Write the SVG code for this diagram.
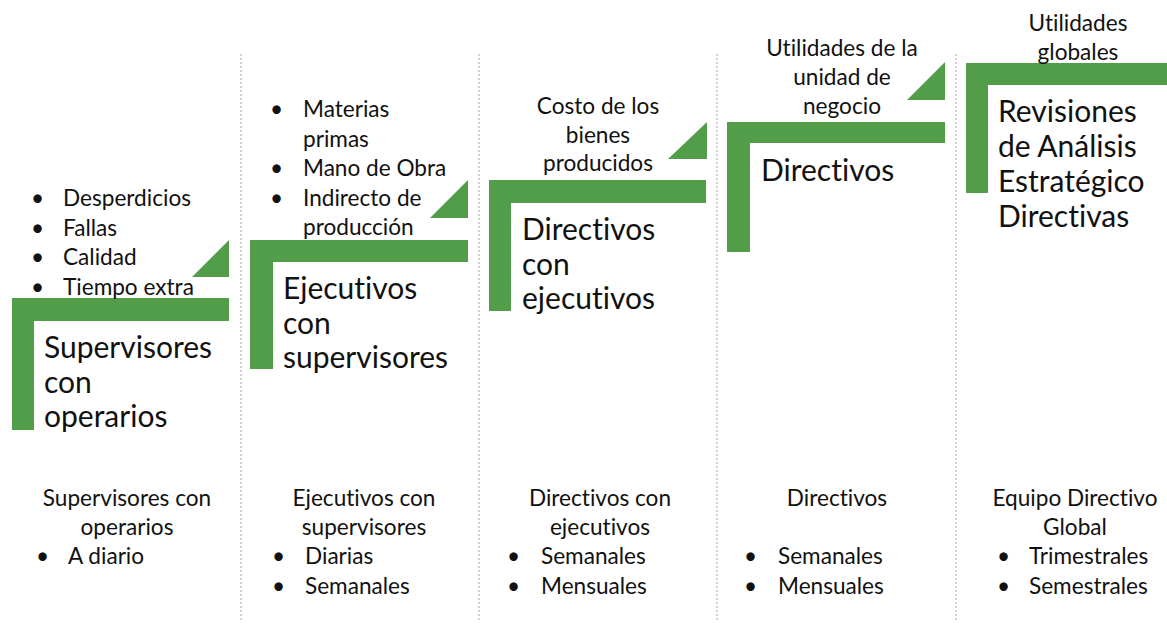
<svg xmlns="http://www.w3.org/2000/svg" width="1167" height="624" viewBox="0 0 1167 624">
<style>
.g{fill:#519d49}
.sep{stroke:#a6a6a6;stroke-width:1;stroke-dasharray:2 2;fill:none}
text{font-family:Lato,"Open Sans",sans-serif;fill:#111;font-variant-ligatures:none}
.s{font-size:22.6px}
.b{font-size:30px}
.c{text-anchor:middle}
</style>
<rect width="1167" height="624" fill="#fff"/>
<g id="separators">
<line class="sep" x1="241" y1="54" x2="241" y2="622"/>
<line class="sep" x1="479" y1="54" x2="479" y2="622"/>
<line class="sep" x1="717" y1="54" x2="717" y2="622"/>
<line class="sep" x1="956" y1="54" x2="956" y2="622"/>
</g>
<g id="step1">
<polygon class="g" points="12,298 229,298 229,321 34,321 34,430 12,430"/>
<polygon class="g" points="192,277 229,240 229,277"/>
<text class="s"><tspan x="31" y="206">•</tspan><tspan x="63" y="206">Desperdicios</tspan><tspan x="31" y="235.5">•</tspan><tspan x="63" y="235.5">Fallas</tspan><tspan x="31" y="265">•</tspan><tspan x="63" y="265">Calidad</tspan><tspan x="31" y="294.5">•</tspan><tspan x="63" y="294.5">Tiempo extra</tspan></text>
<text class="b"><tspan x="44" y="358">Supervisores</tspan><tspan x="44" y="392.5">con</tspan><tspan x="44" y="427">operarios</tspan></text>
</g>
<g id="step2">
<polygon class="g" points="250,240 468,240 468,262 273,262 273,369 250,369"/>
<polygon class="g" points="430,218 468,180 468,218"/>
<text class="s"><tspan x="270" y="117">•</tspan><tspan x="303" y="117">Materias</tspan><tspan x="303" y="146.5">primas</tspan><tspan x="270" y="176">•</tspan><tspan x="303" y="176">Mano de Obra</tspan><tspan x="270" y="205.5">•</tspan><tspan x="303" y="205.5">Indirecto de</tspan><tspan x="303" y="235">producción</tspan></text>
<text class="b"><tspan x="283" y="299">Ejecutivos</tspan><tspan x="283" y="333.5">con</tspan><tspan x="283" y="368">supervisores</tspan></text>
</g>
<g id="step3">
<polygon class="g" points="489,180 706,180 706,203 511,203 511,311 489,311"/>
<polygon class="g" points="668,159 707,122 707,159"/>
<text class="s c"><tspan x="598" y="114">Costo de los</tspan><tspan x="598" y="142.5">bienes</tspan><tspan x="598" y="171">producidos</tspan></text>
<text class="b"><tspan x="522" y="240">Directivos</tspan><tspan x="522" y="274.5">con</tspan><tspan x="522" y="309">ejecutivos</tspan></text>
</g>
<g id="step4">
<polygon class="g" points="727,122 945,122 945,143 750,143 750,252 727,252"/>
<polygon class="g" points="907,100 945,62 945,100"/>
<text class="s c"><tspan x="842" y="56">Utilidades de la</tspan><tspan x="842" y="85">unidad de</tspan><tspan x="842" y="114">negocio</tspan></text>
<text class="b"><tspan x="761" y="181">Directivos</tspan></text>
</g>
<g id="step5">
<polygon class="g" points="966,63 1167,63 1167,85 988,85 988,193 966,193"/>
<text class="s c"><tspan x="1078" y="31">Utilidades</tspan><tspan x="1078" y="60">globales</tspan></text>
<text class="b"><tspan x="998" y="122">Revisiones</tspan><tspan x="998" y="157">de Análisis</tspan><tspan x="998" y="192">Estratégico</tspan><tspan x="998" y="227">Directivas</tspan></text>
</g>
<g id="freq1">
<text class="s c"><tspan x="127" y="506">Supervisores con</tspan><tspan x="127" y="535">operarios</tspan></text>
<text class="s"><tspan x="36" y="564">•</tspan><tspan x="68" y="564">A diario</tspan></text>
</g>
<g id="freq2">
<text class="s c"><tspan x="364" y="506">Ejecutivos con</tspan><tspan x="364" y="535">supervisores</tspan></text>
<text class="s"><tspan x="272" y="564">•</tspan><tspan x="305" y="564">Diarias</tspan><tspan x="272" y="594">•</tspan><tspan x="305" y="594">Semanales</tspan></text>
</g>
<g id="freq3">
<text class="s c"><tspan x="600" y="506">Directivos con</tspan><tspan x="600" y="535">ejecutivos</tspan></text>
<text class="s"><tspan x="507" y="564">•</tspan><tspan x="541" y="564">Semanales</tspan><tspan x="507" y="594">•</tspan><tspan x="541" y="594">Mensuales</tspan></text>
</g>
<g id="freq4">
<text class="s c"><tspan x="837" y="506">Directivos</tspan></text>
<text class="s"><tspan x="744" y="564">•</tspan><tspan x="778" y="564">Semanales</tspan><tspan x="744" y="594">•</tspan><tspan x="778" y="594">Mensuales</tspan></text>
</g>
<g id="freq5">
<text class="s c"><tspan x="1075" y="506">Equipo Directivo</tspan><tspan x="1075" y="535">Global</tspan></text>
<text class="s"><tspan x="997" y="564">•</tspan><tspan x="1029" y="564">Trimestrales</tspan><tspan x="997" y="594">•</tspan><tspan x="1029" y="594">Semestrales</tspan></text>
</g>
</svg>
